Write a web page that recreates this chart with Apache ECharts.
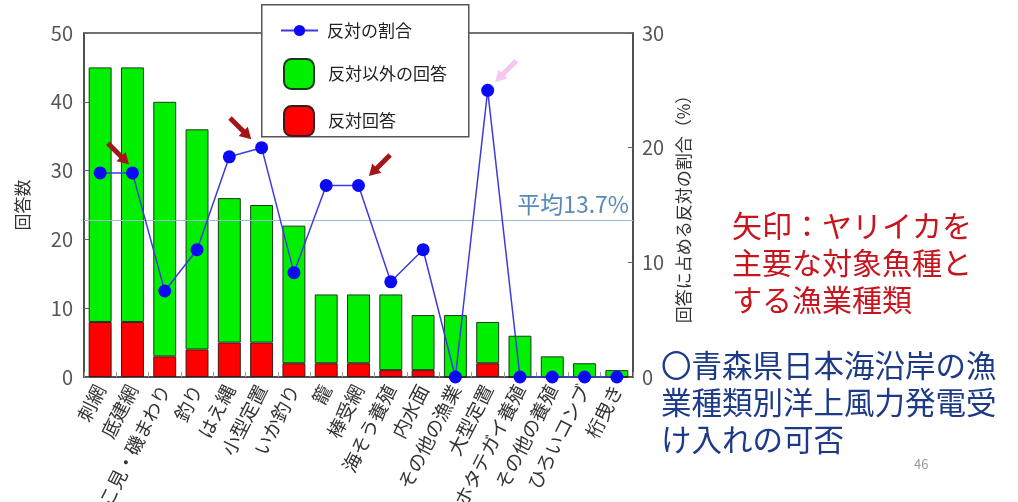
<!DOCTYPE html>
<html>
<head>
<meta charset="utf-8">
<script src="https://cdn.jsdelivr.net/npm/echarts@6/dist/echarts.min.js"></script>
<style>
  html, body { margin: 0; padding: 0; background: #fff; }
  #chart { width: 1018px; height: 502px; }
</style>
</head>
<body>
<div id="chart"></div>
<script>
// Fishery types (回答数 by type)
const categories = ['刺網', '底建網', 'そこ見・磯まわり', '釣り', 'はえ縄', '小型定置', 'いか釣り', '籠', '棒受網',
  '海そう養殖', '内水面', 'その他の漁業', '大型定置', 'ホタテガイ養殖', 'その他の養殖', 'ひろいコンブ', '桁曳き'];
// 反対回答 (opposed answers)
const opposed = [8, 8, 3, 4, 5, 5, 2, 2, 2, 1, 1, 0, 2, 0, 0, 0, 0];
// 反対以外の回答 (other answers)
const others = [37, 37, 37, 32, 21, 20, 20, 10, 10, 11, 8, 9, 6, 6, 3, 2, 1];
// 反対の割合 (%)
const opposedRate = [17.8, 17.8, 7.5, 11.1, 19.2, 20.0, 9.1, 16.7, 16.7, 8.3, 11.1, 0, 25.0, 0, 0, 0, 0];
// average share of opposed answers (%)
const averageRate = 13.7;
const countTicks = { min: 0, max: 50, interval: 10 };
const rateTicks = { min: 0, max: 30, interval: 10 };

// arrows pointing at the squid-targeting fishery types
const arrowMarks = [
  { cat: '底建網', val: 17.8, rot: 45, off: [-14, -19], color: '#a3161a' },
  { cat: '小型定置', val: 20.0, rot: 45, off: [-21, -19], color: '#a3161a' },
  { cat: '棒受網', val: 16.7, rot: -45, off: [21, -20], color: '#a3161a' },
  { cat: '大型定置', val: 25.0, rot: -45, off: [18, -19], color: '#f6c6ee' }
];

const FONT = '"Noto Sans CJK JP", "Noto Sans", sans-serif';
const arrowPath = 'path://M4 0 L9 0 L9 15 L13 15 L6.5 24 L0 15 L4 15 Z';

const chart = echarts.init(document.getElementById('chart'));
chart.setOption({
  backgroundColor: '#ffffff',
  animation: false,
  textStyle: { fontFamily: FONT },
  grid: {
    left: 84, right: 385, top: 33, bottom: 125,
    outerBoundsMode: 'none', containLabel: false,
    show: true, borderColor: '#444', borderWidth: 1.5, backgroundColor: 'transparent'
  },
  legend: [
    {
      z: 20, orient: 'vertical', left: 275, top: 17,
      itemWidth: 37, itemHeight: 14,
      data: ['反対の割合'],
      textStyle: { fontSize: 17, color: '#222', padding: [0, 0, 0, 4] }
    },
    {
      z: 20, orient: 'vertical', left: 278, top: 53,
      itemWidth: 30, itemHeight: 30, itemGap: 15,
      data: ['反対以外の回答', '反対回答'],
      textStyle: { fontSize: 17, color: '#222', padding: [0, 0, 0, 9] }
    }
  ],
  graphic: [
    {
      type: 'rect', z: 10, left: 261, top: 4,
      shape: { width: 207, height: 132 },
      style: { fill: '#fff', stroke: '#555', lineWidth: 1.5 }
    },
    {
      type: 'text', left: 732, top: 207,
      style: {
        text: '矢印：ヤリイカを\n主要な対象魚種と\nする漁業種類',
        fill: '#c8141c', font: '30px ' + FONT, lineHeight: 37
      }
    },
    {
      type: 'text', left: 661, top: 347,
      style: {
        text: '〇青森県日本海沿岸の漁\n業種類別洋上風力発電受\nけ入れの可否',
        fill: '#1c3a87', font: '30.5px ' + FONT, lineHeight: 37
      }
    },
    {
      type: 'text', left: 914, top: 458,
      style: { text: '46', fill: '#9a9a9a', font: '13px ' + FONT }
    }
  ],
  xAxis: {
    type: 'category',
    data: categories,
    axisLine: { lineStyle: { color: '#444', width: 1.5 } },
    axisTick: { show: true, inside: true, length: 5, lineStyle: { color: '#999' } },
    axisLabel: { interval: 0, rotate: 63, margin: 9, fontSize: 19, color: '#333' }
  },
  yAxis: [
    {
      type: 'value', min: countTicks.min, max: countTicks.max, interval: countTicks.interval,
      name: '回答数', nameLocation: 'middle', nameRotate: 90, nameGap: 53,
      nameTextStyle: { fontSize: 17, color: '#333' },
      axisLine: { show: true, lineStyle: { color: '#444', width: 1.5 } },
      axisTick: { show: true, inside: true, length: 5, lineStyle: { color: '#666' } },
      axisLabel: { fontSize: 20, color: '#555', margin: 11 },
      splitLine: { show: false }
    },
    {
      type: 'value', min: rateTicks.min, max: rateTicks.max, interval: rateTicks.interval,
      name: '回答に占める反対の割合（%）', nameLocation: 'middle', nameRotate: 90, nameGap: 41,
      nameTextStyle: { fontSize: 17, color: '#333' },
      axisLine: { show: true, lineStyle: { color: '#444', width: 1.5 } },
      axisTick: { show: true, inside: true, length: 5, lineStyle: { color: '#666' } },
      axisLabel: { fontSize: 20, color: '#555', margin: 9 },
      splitLine: { show: false }
    }
  ],
  series: [
    {
      name: '反対回答', type: 'bar', stack: 'answers', data: opposed,
      barCategoryGap: '29%',
      itemStyle: { color: '#ff0000', borderColor: '#3a1a1a', borderWidth: 1 }
    },
    {
      name: '反対以外の回答', type: 'bar', stack: 'answers', data: others,
      barCategoryGap: '29%',
      itemStyle: { color: '#00f000', borderColor: '#1a3a1a', borderWidth: 1 }
    },
    {
      name: '反対の割合', type: 'line', yAxisIndex: 1, data: opposedRate, z: 5,
      symbol: 'circle', symbolSize: 13,
      lineStyle: { color: '#3b3be0', width: 1.5 },
      itemStyle: { color: '#0a0af5' },
      markLine: {
        silent: true, symbol: 'none',
        lineStyle: { color: '#9db9d8', width: 1, type: 'solid' },
        label: {
          position: 'insideEndTop', formatter: '平均' + averageRate + '%',
          fontSize: 23, color: '#5a8ab8', distance: [4, 4]
        },
        data: [{ yAxis: averageRate }]
      },
      markPoint: {
        silent: true,
        label: { show: false },
        data: arrowMarks.map(a => ({
          coord: [a.cat, a.val],
          symbol: arrowPath, symbolSize: [13, 30], symbolKeepAspect: false,
          symbolRotate: a.rot, symbolOffset: a.off,
          itemStyle: { color: a.color }
        }))
      }
    }
  ]
});
</script>
</body>
</html>
